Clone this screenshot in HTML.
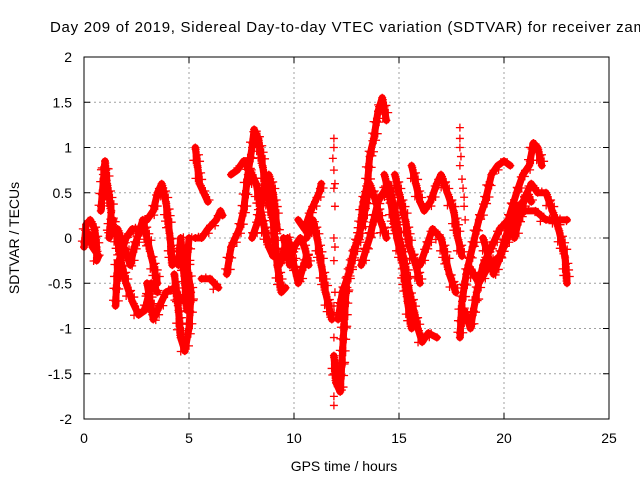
<!DOCTYPE html>
<html><head><meta charset="utf-8"><style>
body{margin:0;background:#fff}
svg{display:block;font-family:"Liberation Sans",sans-serif}
</style></head><body>
<svg id="chart" width="640" height="480" viewBox="0 0 640 480">
<text x="50" y="32" font-size="15" textLength="605" lengthAdjust="spacing">Day 209 of 2019, Sidereal Day-to-day VTEC variation (SDTVAR) for receiver zamb</text>
<g id="grid"></g>
<g id="ticks"></g>
<g id="marks"></g>
<rect x="84" y="57" width="525" height="362" fill="none" stroke="#000" stroke-width="1"/>
<text x="344" y="471" font-size="14" text-anchor="middle">GPS time / hours</text>
<text x="0" y="0" font-size="14" text-anchor="middle" transform="translate(19,238) rotate(-90)">SDTVAR / TECUs</text>
</svg>
<script>
const xTicks=[0,5,10,15,20,25];
const yTicks=[-2,-1.5,-1,-0.5,0,0.5,1,1.5,2];
const yTickLabels=["-2","-1.5","-1","-0.5","0","0.5","1","1.5","2"];
const trace1=[[0,-0.1],[0.1,0.15],[0.3,0.2],[0.5,0.1],[0.6,-0.1],[0.6,-0.25],[0.7,-0.2],[0.4,-0.1],[0.2,0.05]];
const trace2=[[0.8,0.3],[1.0,0.85],[1.1,0.6],[1.3,0.3],[1.2,0.0],[1.4,0.2]];
const trace3=[[1.5,-0.75],[1.6,-0.3],[2.0,0.0],[2.3,0.1],[2.6,0.1]];
const trace4=[[1.5,0.1],[1.8,-0.3],[2.0,-0.5],[2.3,-0.7],[2.6,-0.85],[2.9,-0.8],[3.2,-0.5],[3.5,-0.6]];
const trace5=[[1.6,0.1],[2.2,-0.3],[2.4,-0.1],[2.8,0.2],[3.2,-0.2],[3.5,-0.5]];
const trace6=[[3.0,0.2],[3.3,0.3],[3.5,0.5],[3.7,0.6],[3.9,0.4],[4.1,0.0],[4.2,-0.3]];
const trace7=[[3.0,-0.5],[3.3,-0.9],[3.5,-0.8],[3.9,-0.6],[4.3,-0.55],[4.6,-0.7]];
const trace8=[[4.3,-0.4],[4.5,-0.8],[4.6,-1.1],[4.8,-1.25],[5.0,-1.0],[5.1,-0.6],[4.9,-0.3],[5.0,0.0]];
const trace9=[[4.5,-0.3],[4.6,0.0],[4.8,-0.5],[4.9,-0.8]];
const trace10=[[5.3,1.0],[5.4,0.8],[5.5,0.6],[5.7,0.5],[5.9,0.4]];
const trace11=[[5.3,0.0],[5.6,0.0],[5.9,0.1],[6.3,0.2],[6.5,0.3],[6.6,0.25]];
const trace12=[[5.6,-0.45],[6.0,-0.45],[6.4,-0.55]];
const trace13=[[6.8,-0.4],[7.0,-0.1],[7.2,0.0],[7.4,0.1],[7.6,0.3],[7.8,0.7],[8.0,1.0],[8.1,1.2],[8.3,1.1],[8.5,0.8],[8.7,0.5],[9.0,0.2],[9.2,-0.3],[9.4,-0.6],[9.6,-0.55]];
const trace14=[[7.0,0.7],[7.3,0.75],[7.6,0.85],[7.9,0.75],[8.2,0.6],[8.5,0.2],[8.8,-0.1],[9.0,-0.2]];
const trace15=[[8.0,0.0],[8.3,0.2],[8.6,0.6],[8.8,0.7],[9.0,0.5],[9.2,0.1]];
const trace16=[[9.5,0.0],[9.8,-0.3],[10.0,-0.1],[10.3,0.0],[10.5,-0.1],[10.7,-0.3]];
const trace17=[[9.3,-0.3],[9.7,0.0],[10.2,-0.5],[10.6,-0.2]];
const trace18=[[10.2,0.2],[10.5,0.1],[10.8,0.3],[11.0,0.4],[11.2,0.5],[11.3,0.6]];
const trace19=[[10.6,0.0],[10.9,0.2],[11.1,0.0],[11.3,-0.3],[11.5,-0.6],[11.8,-0.9]];
const sparse1=[[11.9,1.1],[11.9,1.0],[11.85,0.88],[11.9,0.75],[11.95,0.6],[11.9,0.55],[11.95,0.35],[11.9,-0.0],[11.95,-0.1],[11.9,-0.25],[11.95,-0.6],[11.9,-0.75],[11.9,-1.1],[11.9,-1.5],[11.9,-1.75],[11.9,-1.85]];
const trace21=[[11.9,-1.3],[12.0,-1.6],[12.2,-1.7],[12.3,-1.3],[12.4,-0.9],[12.5,-0.5],[12.7,-0.3],[12.9,-0.1],[13.1,0.0],[13.3,0.4],[13.5,0.6],[13.6,0.9],[13.8,1.1],[14.0,1.4],[14.2,1.55],[14.4,1.3]];
const trace22=[[12.1,-0.9],[12.3,-0.6],[12.6,-0.4],[12.8,-0.2],[13.3,0.2],[13.6,0.6],[13.9,0.4],[14.1,0.2],[14.4,0.0]];
const trace23=[[13.2,-0.3],[13.6,0.0],[13.8,0.2],[14.0,0.4],[14.5,0.6],[14.8,0.3],[15.0,0.0],[15.2,-0.2],[15.5,-0.6],[15.7,-0.8],[15.9,-1.0],[16.1,-1.15],[16.4,-1.05],[16.8,-1.1]];
const trace24=[[14.3,0.7],[14.6,0.4],[14.9,0.0],[15.2,-0.3],[15.4,-0.7],[15.6,-1.0]];
const trace25=[[14.8,0.7],[15.0,0.5],[15.3,0.2],[15.5,-0.1],[15.8,-0.3],[16.0,-0.5]];
const trace26=[[15.6,0.8],[15.8,0.6],[16.0,0.4],[16.2,0.3],[16.5,0.4],[16.8,0.6],[17.0,0.7],[17.3,0.5],[17.6,0.3],[17.8,0.0],[18.0,-0.2]];
const trace27=[[16.0,-0.3],[16.3,-0.1],[16.6,0.1],[17.0,0.0],[17.4,-0.4],[17.7,-0.6]];
const sparse2=[[17.9,1.22],[17.9,1.1],[17.9,1.0],[17.95,0.9],[17.9,0.8],[18.0,0.65],[18.05,0.55],[18.1,0.45],[18.1,0.35],[18.15,0.2]];
const trace29=[[17.9,-1.1],[18.0,-0.7],[18.2,-0.4],[18.5,-0.1],[18.8,0.2],[19.1,0.4],[19.4,0.7],[19.7,0.8],[20.0,0.85],[20.3,0.8]];
const trace30=[[18.1,-0.8],[18.4,-1.0],[18.7,-0.6],[19.0,-0.3],[19.4,-0.1],[19.8,0.1],[20.2,0.2],[20.6,0.5],[20.9,0.7],[21.2,0.8],[21.4,1.05],[21.6,1.0],[21.8,0.8]];
const trace31=[[18.3,-0.3],[18.8,-0.5],[19.3,-0.3],[19.8,-0.2],[20.2,0.1],[20.5,0.3],[20.9,0.4],[21.3,0.6],[21.6,0.5],[22.0,0.5],[22.3,0.3],[22.6,0.1],[22.9,-0.2],[23.0,-0.5]];
const trace32=[[19.0,0.0],[19.5,-0.4],[20.0,-0.1],[20.5,0.2],[21.0,0.3],[21.5,0.3],[22.0,0.2],[22.5,0.2],[23.0,0.2]];
const trace33=[[20.5,0.0],[20.8,0.3],[21.1,0.5],[21.3,0.4]];
const traces=[trace1,trace2,trace3,trace4,trace5,trace6,trace7,trace8,trace9,trace10,trace11,trace12,trace13,trace14,trace15,trace16,trace17,trace18,trace19,trace21,trace22,trace23,trace24,trace25,trace26,trace27,trace29,trace30,trace31,trace32,trace33];
const sparseTraces=[sparse1,sparse2];

const NS="http://www.w3.org/2000/svg";
const X0=84,X1=609,Y0=419,Y1=57;
function xs(t){return X0+(t-0)/(25-0)*(X1-X0);}
function ys(v){return Y0-(v+2)/4*(Y0-Y1);}
function mk(tag,attrs,parent){const e=document.createElementNS(NS,tag);for(const k in attrs)e.setAttribute(k,attrs[k]);parent.appendChild(e);return e;}
const grid=document.getElementById('grid'),ticks=document.getElementById('ticks'),marks=document.getElementById('marks');
xTicks.forEach((t,i)=>{
  const x=xs(t);
  if(i>0&&i<xTicks.length-1){const g=mk('line',{x1:x,x2:x,y1:Y1,y2:Y0,stroke:'#a0a0a0','stroke-dasharray':'2,3'},grid);
  
  }
  mk('line',{x1:x,x2:x,y1:Y0,y2:Y0-6,stroke:'#000'},ticks);
  mk('line',{x1:x,x2:x,y1:Y1,y2:Y1+6,stroke:'#000'},ticks);
  const l=mk('text',{x:x,y:443,'font-size':14,'text-anchor':'middle'},ticks);l.textContent=t;
  
  
});
yTicks.forEach((v,i)=>{
  const y=ys(v);
  if(i>0&&i<yTicks.length-1){const g=mk('line',{x1:X0,x2:X1,y1:y,y2:y,stroke:'#a0a0a0','stroke-dasharray':'2,3'},grid);
  
  }
  mk('line',{x1:X0,x2:X0+6,y1:y,y2:y,stroke:'#000'},ticks);
  mk('line',{x1:X1,x2:X1-6,y1:y,y2:y,stroke:'#000'},ticks);
  const l=mk('text',{x:72,y:y+5,'font-size':14,'text-anchor':'end'},ticks);l.textContent=yTickLabels[i];
  
  
});
function plus(x,y,g){mk('path',{d:`M${x-4},${y}h8M${x},${y-4}v8`,stroke:'#f00','stroke-width':1.3,fill:'none'},g);}
traces.forEach(tr=>{
  const g=mk('g',{},marks);
  
  
  const pts=tr.map(p=>[xs(p[0]),ys(p[1])]);
  mk('polyline',{points:pts.map(p=>p.join(',')).join(' '),fill:'none',stroke:'#f00','stroke-width':7,'stroke-linejoin':'round','stroke-linecap':'round'},g);
  for(let i=0;i<pts.length;i++){
    plus(pts[i][0],pts[i][1],g);
    if(i<pts.length-1){const [ax,ay]=pts[i],[bx,by]=pts[i+1];const d=Math.hypot(bx-ax,by-ay);const n=Math.floor(d/3);
      for(let k=1;k<n;k++){const f=k/n;plus(ax+(bx-ax)*f+((k%3)-1)*3,ay+(by-ay)*f+((k%4)-1.5)*2.5,g);}}
  }
});
sparseTraces.forEach(tr=>{
  const g=mk('g',{},marks);
  
  
  tr.forEach(p=>plus(xs(p[0]),ys(p[1]),g));
});
</script>
</body></html>
